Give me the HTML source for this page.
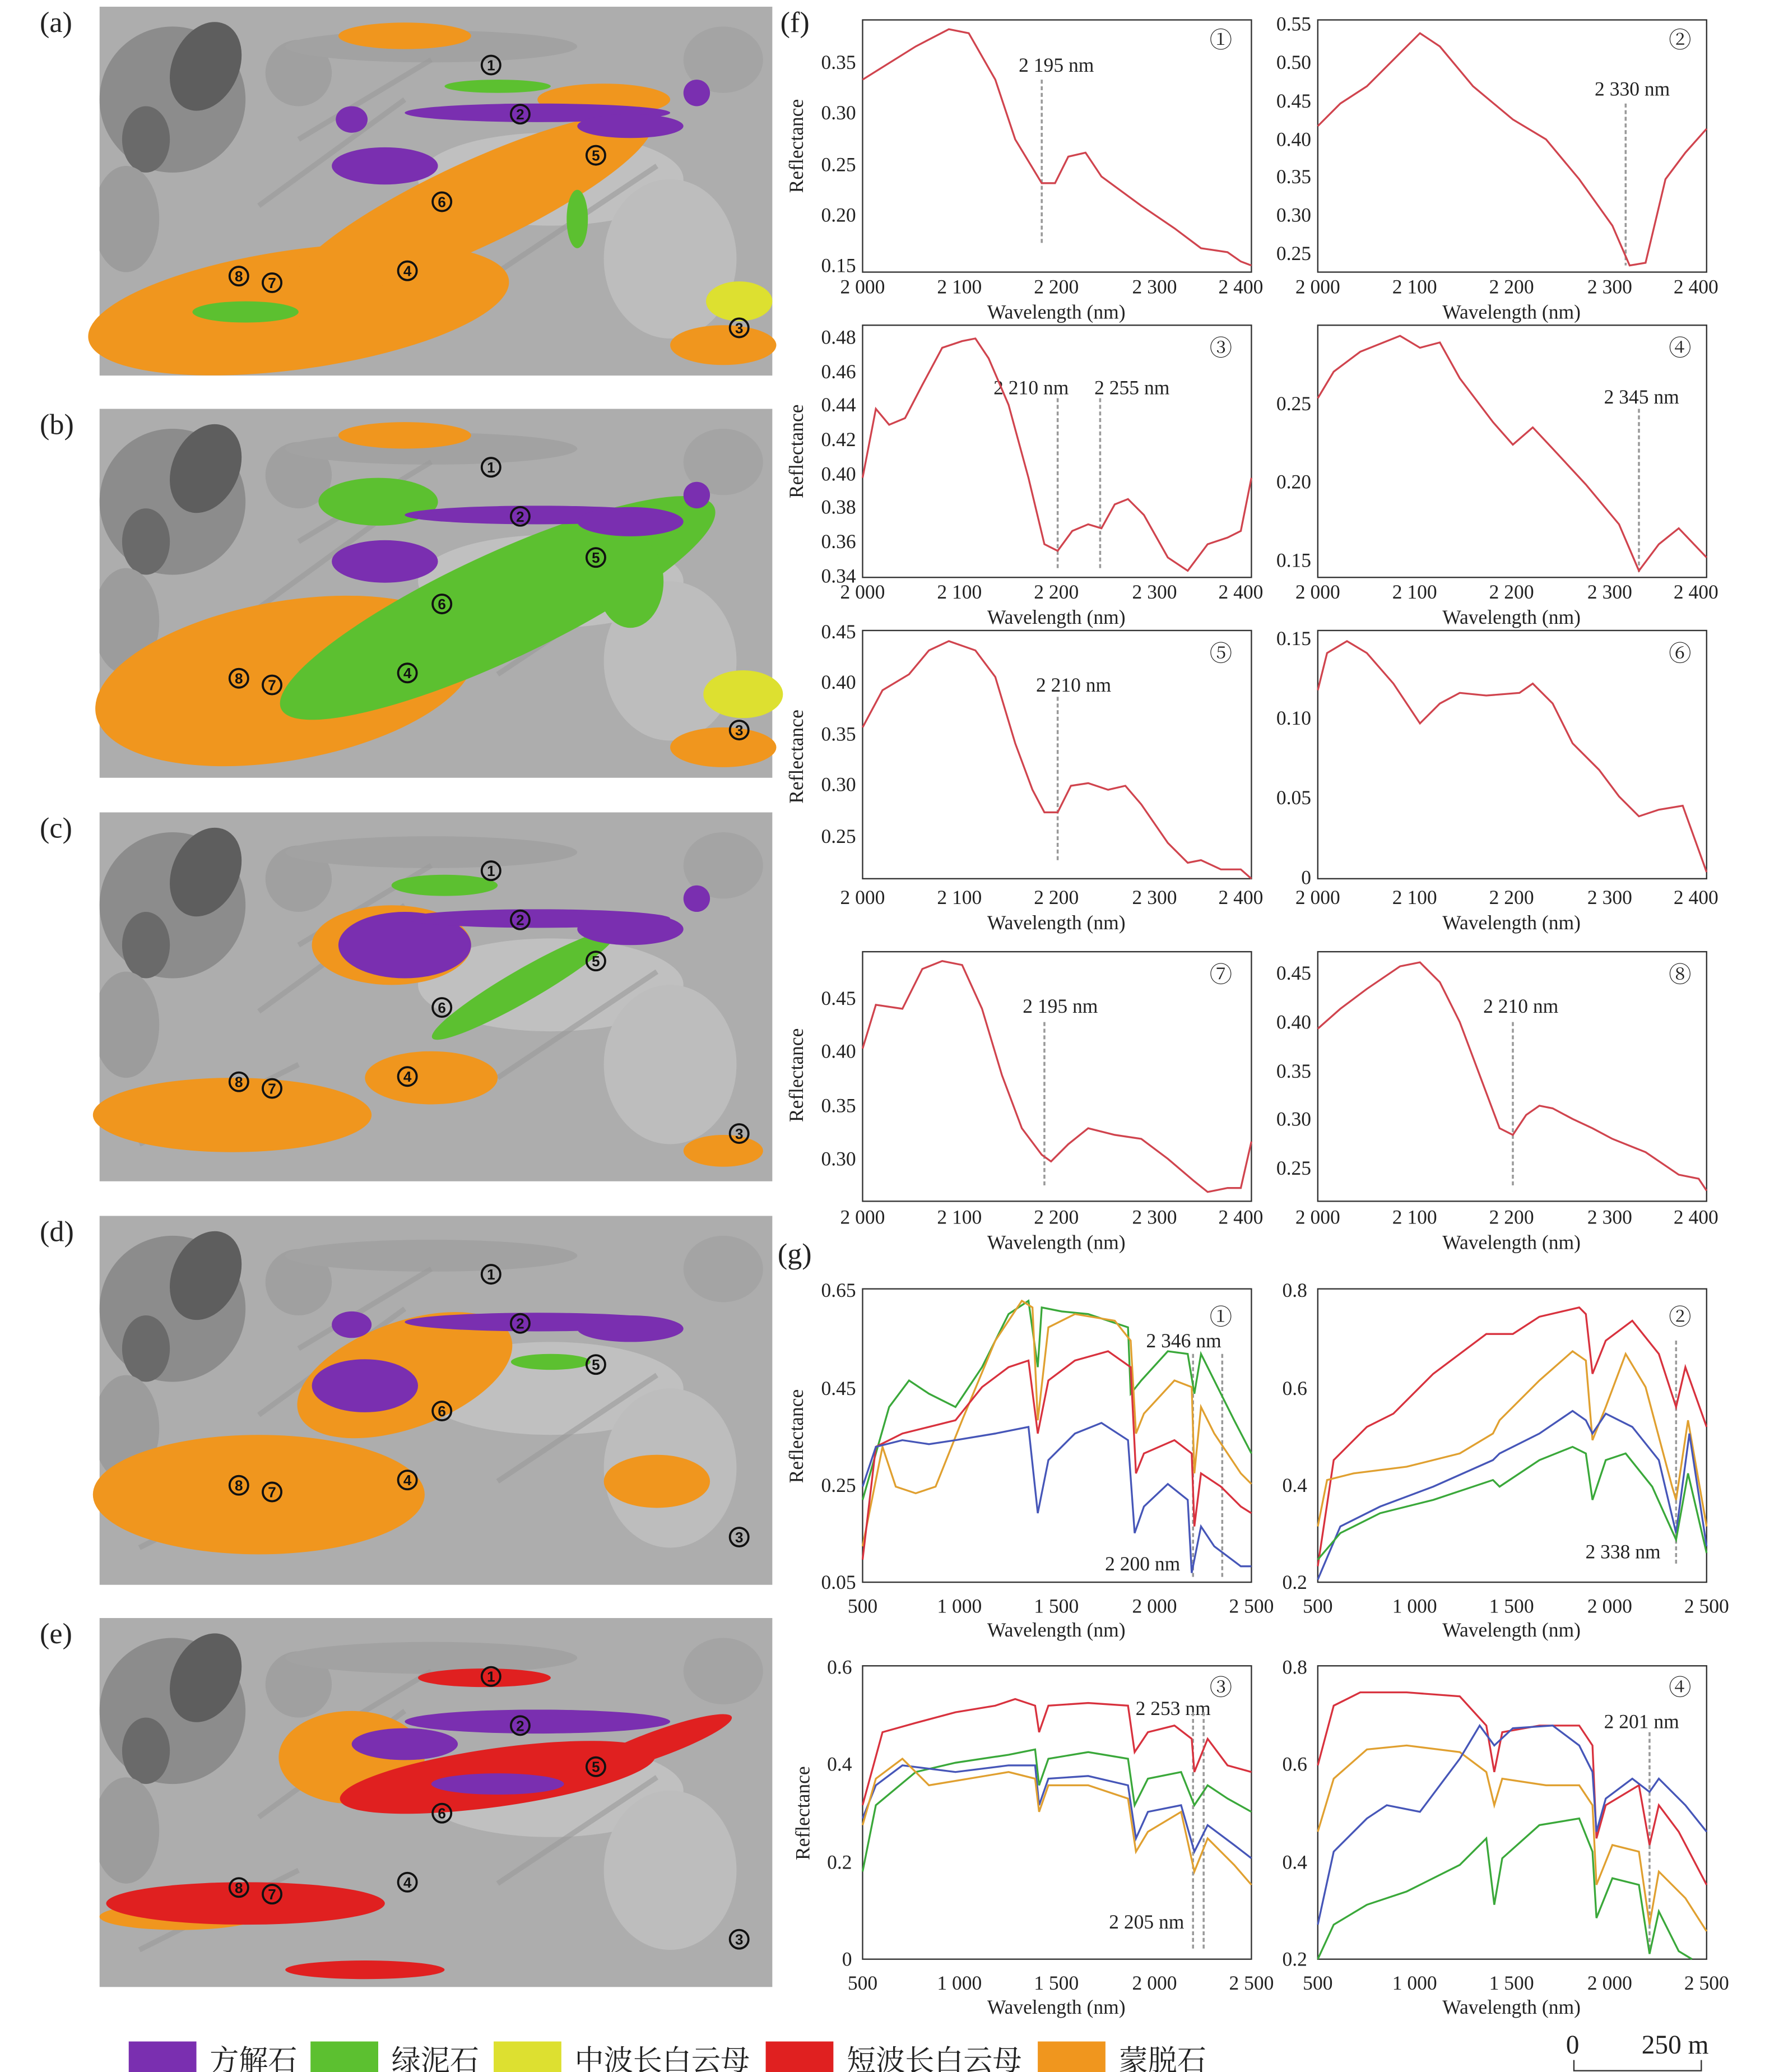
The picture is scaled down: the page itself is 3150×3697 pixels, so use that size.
<!DOCTYPE html>
<html><head><meta charset="utf-8"><style>
html,body{margin:0;padding:0;background:#fff}
svg{display:block}
text{font-family:"Liberation Serif","Noto Serif CJK SC",serif;fill:#222}
.t{font-size:15px}
.cn{font-family:"Liberation Serif","Noto Serif CJK SC",serif;font-size:22px}
.ax{fill:none;stroke:#333;stroke-width:1}
.c{fill:none;stroke:#d0444e;stroke-width:1.4}
.r{fill:none;stroke:#d8323e;stroke-width:1.4}
.g{fill:none;stroke:#3aa83a;stroke-width:1.4}
.y{fill:none;stroke:#e0a030;stroke-width:1.4}
.b{fill:none;stroke:#4656b8;stroke-width:1.4}
.v{stroke:#999;stroke-width:1.5;stroke-dasharray:3,2}
.mk circle{fill:none;stroke:#111;stroke-width:1.6}
.mk text{font-size:11px;font-weight:bold;text-anchor:middle;fill:#111;font-family:"Liberation Sans",sans-serif}
</style></head><body>
<svg width="3150" height="3697" viewBox="0 0 1330 1561" preserveAspectRatio="none" xmlns="http://www.w3.org/2000/svg">
<defs>
<symbol id="bg" viewBox="0 0 507 278" width="507" height="278">
<rect width="507" height="278" fill="#adadad"/>
<ellipse cx="55" cy="70" rx="55" ry="55" fill="#8c8c8c"/>
<ellipse cx="80" cy="45" rx="25" ry="35" fill="#5e5e5e" transform="rotate(25 80 45)"/>
<ellipse cx="35" cy="100" rx="18" ry="25" fill="#6a6a6a"/>
<ellipse cx="20" cy="160" rx="25" ry="40" fill="#9c9c9c"/>
<ellipse cx="150" cy="50" rx="25" ry="25" fill="#a0a0a0"/>
<ellipse cx="340" cy="130" rx="100" ry="35" fill="#c0c0c0"/>
<ellipse cx="430" cy="190" rx="50" ry="60" fill="#bdbdbd"/>
<ellipse cx="250" cy="30" rx="110" ry="12" fill="#a2a2a2"/>
<ellipse cx="470" cy="40" rx="30" ry="25" fill="#a4a4a4"/>
<g stroke="#9a9a9a" stroke-width="4" opacity="0.6">
<line x1="150" y1="100" x2="250" y2="40"/><line x1="120" y1="150" x2="230" y2="70"/><line x1="300" y1="200" x2="420" y2="120"/><line x1="30" y1="250" x2="150" y2="190"/>
</g>
</symbol>
<g id="mk" class="mk">
<circle cx="295" cy="44" r="7"/><text x="295" y="48">1</text>
<circle cx="317" cy="81" r="7"/><text x="317" y="85">2</text>
<circle cx="374" cy="112" r="7"/><text x="374" y="116">5</text>
<circle cx="258" cy="147" r="7"/><text x="258" y="151">6</text>
<circle cx="232" cy="199" r="7"/><text x="232" y="203">4</text>
<circle cx="105" cy="203" r="7"/><text x="105" y="207">8</text>
<circle cx="130" cy="208" r="7"/><text x="130" y="212">7</text>
<circle cx="482" cy="242" r="7"/><text x="482" y="246">3</text>
</g>
</defs>

<text x="30" y="24" font-size="22">(a)</text>
<text x="30" y="327" font-size="22">(b)</text>
<text x="30" y="631" font-size="22">(c)</text>
<text x="30" y="935" font-size="22">(d)</text>
<text x="30" y="1238" font-size="22">(e)</text>
<text x="588" y="24" font-size="22">(f)</text>
<text x="586" y="952" font-size="22">(g)</text>

<!-- (a) -->
<g transform="translate(75,5)">
<use href="#bg"/>
<g fill="#f0961e">
<ellipse cx="150" cy="228" rx="160" ry="45" transform="rotate(-8 150 228)"/>
<ellipse cx="280" cy="150" rx="150" ry="32" transform="rotate(-25 280 150)"/>
<ellipse cx="230" cy="22" rx="50" ry="10"/>
<ellipse cx="470" cy="255" rx="40" ry="15"/>
<ellipse cx="380" cy="70" rx="50" ry="12"/>
</g>
<g fill="#5cc030"><ellipse cx="110" cy="230" rx="40" ry="8"/><ellipse cx="300" cy="60" rx="40" ry="5"/><ellipse cx="360" cy="160" rx="8" ry="22"/></g>
<g fill="#dde030"><ellipse cx="482" cy="222" rx="25" ry="15"/></g>
<g fill="#7a2fb0"><ellipse cx="330" cy="80" rx="100" ry="7"/><ellipse cx="215" cy="120" rx="40" ry="14"/><ellipse cx="400" cy="90" rx="40" ry="9"/><ellipse cx="450" cy="65" rx="10" ry="10"/><ellipse cx="190" cy="85" rx="12" ry="10"/></g>
<use href="#mk"/>
</g>
<!-- (b) -->
<g transform="translate(75,308)">
<use href="#bg"/>
<g fill="#f0961e"><ellipse cx="140" cy="205" rx="145" ry="60" transform="rotate(-10 140 205)"/><ellipse cx="230" cy="20" rx="50" ry="10"/><ellipse cx="470" cy="255" rx="40" ry="15"/></g>
<g fill="#5cc030"><ellipse cx="300" cy="150" rx="180" ry="40" transform="rotate(-25 300 150)"/><ellipse cx="400" cy="130" rx="25" ry="35"/><ellipse cx="210" cy="70" rx="45" ry="18"/></g>
<g fill="#dde030"><ellipse cx="485" cy="215" rx="30" ry="18"/></g>
<g fill="#7a2fb0"><ellipse cx="330" cy="80" rx="100" ry="7"/><ellipse cx="215" cy="115" rx="40" ry="16"/><ellipse cx="400" cy="85" rx="40" ry="11"/><ellipse cx="450" cy="65" rx="10" ry="10"/></g>
<use href="#mk"/>
</g>
<!-- (c) -->
<g transform="translate(75,612)">
<use href="#bg"/>
<g fill="#f0961e"><ellipse cx="100" cy="228" rx="105" ry="28"/><ellipse cx="220" cy="100" rx="60" ry="30"/><ellipse cx="250" cy="200" rx="50" ry="20"/><ellipse cx="470" cy="255" rx="30" ry="12"/></g>
<g fill="#5cc030"><ellipse cx="320" cy="130" rx="80" ry="12" transform="rotate(-30 320 130)"/><ellipse cx="260" cy="55" rx="40" ry="8"/></g>
<g fill="#7a2fb0"><ellipse cx="230" cy="100" rx="50" ry="25"/><ellipse cx="330" cy="80" rx="100" ry="7"/><ellipse cx="400" cy="88" rx="40" ry="12"/><ellipse cx="450" cy="65" rx="10" ry="10"/></g>
<use href="#mk"/>
</g>
<!-- (d) -->
<g transform="translate(75,916)">
<use href="#bg"/>
<g fill="#f0961e"><ellipse cx="120" cy="210" rx="125" ry="45"/><ellipse cx="230" cy="120" rx="85" ry="40" transform="rotate(-20 230 120)"/><ellipse cx="420" cy="200" rx="40" ry="20"/></g>
<g fill="#7a2fb0"><ellipse cx="200" cy="128" rx="40" ry="20"/><ellipse cx="330" cy="80" rx="100" ry="7"/><ellipse cx="400" cy="85" rx="40" ry="10"/><ellipse cx="190" cy="82" rx="15" ry="10"/></g>
<g fill="#5cc030"><ellipse cx="340" cy="110" rx="30" ry="6"/></g>
<use href="#mk"/>
</g>
<!-- (e) -->
<g transform="translate(75,1219)">
<use href="#bg"/>
<g fill="#f0961e"><ellipse cx="190" cy="105" rx="55" ry="35"/><ellipse cx="60" cy="225" rx="60" ry="10"/></g>
<g fill="#e02020"><ellipse cx="300" cy="120" rx="120" ry="22" transform="rotate(-8 300 120)"/><ellipse cx="110" cy="215" rx="105" ry="16"/><ellipse cx="290" cy="45" rx="50" ry="7"/><ellipse cx="420" cy="95" rx="60" ry="10" transform="rotate(-20 420 95)"/><ellipse cx="200" cy="265" rx="60" ry="7"/></g>
<g fill="#7a2fb0"><ellipse cx="330" cy="78" rx="100" ry="9"/><ellipse cx="230" cy="95" rx="40" ry="12"/><ellipse cx="300" cy="125" rx="50" ry="8"/></g>
<use href="#mk"/>
</g>

<g class="t">
<rect class="ax" x="650" y="15" width="293" height="190"/>
<rect class="ax" x="993" y="15" width="293" height="190"/>
<rect class="ax" x="650" y="245" width="293" height="190"/>
<rect class="ax" x="993" y="245" width="293" height="190"/>
<rect class="ax" x="650" y="475" width="293" height="187"/>
<rect class="ax" x="993" y="475" width="293" height="187"/>
<rect class="ax" x="650" y="717" width="293" height="188"/>
<rect class="ax" x="993" y="717" width="293" height="188"/>
<rect class="ax" x="650" y="971" width="293" height="221"/>
<rect class="ax" x="993" y="971" width="293" height="221"/>
<rect class="ax" x="650" y="1255" width="293" height="221"/>
<rect class="ax" x="993" y="1255" width="293" height="221"/>

<g text-anchor="middle">
<g id="xf"><text x="650" y="221">2 000</text><text x="723" y="221">2 100</text><text x="796" y="221">2 200</text><text x="870" y="221">2 300</text><text x="935" y="221">2 400</text><text x="796" y="240">Wavelength (nm)</text></g>
<use href="#xf" x="343"/>
<use href="#xf" y="230"/><use href="#xf" x="343" y="230"/>
<use href="#xf" y="460"/><use href="#xf" x="343" y="460"/>
<use href="#xf" y="701"/><use href="#xf" x="343" y="701"/>
<g id="xg"><text x="650" y="1215">500</text><text x="723" y="1215">1 000</text><text x="796" y="1215">1 500</text><text x="870" y="1215">2 000</text><text x="943" y="1215">2 500</text><text x="796" y="1233">Wavelength (nm)</text></g>
<use href="#xg" x="343"/>
<use href="#xg" y="284"/><use href="#xg" x="343" y="284"/>
</g>
<g font-size="15">
<text transform="translate(605,110) rotate(-90)" text-anchor="middle">Reflectance</text>
<text transform="translate(605,340) rotate(-90)" text-anchor="middle">Reflectance</text>
<text transform="translate(605,570) rotate(-90)" text-anchor="middle">Reflectance</text>
<text transform="translate(605,810) rotate(-90)" text-anchor="middle">Reflectance</text>
<text transform="translate(605,1082) rotate(-90)" text-anchor="middle">Reflectance</text>
<text transform="translate(610,1366) rotate(-90)" text-anchor="middle">Reflectance</text>
</g>
<g text-anchor="end">
<text x="645" y="52">0.35</text><text x="645" y="90">0.30</text><text x="645" y="129">0.25</text><text x="645" y="167">0.20</text><text x="645" y="205">0.15</text>
<text x="988" y="23">0.55</text><text x="988" y="52">0.50</text><text x="988" y="81">0.45</text><text x="988" y="110">0.40</text><text x="988" y="138">0.35</text><text x="988" y="167">0.30</text><text x="988" y="196">0.25</text>
<text x="645" y="259">0.48</text><text x="645" y="285">0.46</text><text x="645" y="310">0.44</text><text x="645" y="336">0.42</text><text x="645" y="362">0.40</text><text x="645" y="387">0.38</text><text x="645" y="413">0.36</text><text x="645" y="439">0.34</text>
<text x="988" y="309">0.25</text><text x="988" y="368">0.20</text><text x="988" y="427">0.15</text>
<text x="645" y="481">0.45</text><text x="645" y="519">0.40</text><text x="645" y="558">0.35</text><text x="645" y="596">0.30</text><text x="645" y="635">0.25</text>
<text x="988" y="486">0.15</text><text x="988" y="546">0.10</text><text x="988" y="606">0.05</text><text x="988" y="666">0</text>
<text x="645" y="757">0.45</text><text x="645" y="797">0.40</text><text x="645" y="838">0.35</text><text x="645" y="878">0.30</text>
<text x="988" y="738">0.45</text><text x="988" y="775">0.40</text><text x="988" y="812">0.35</text><text x="988" y="848">0.30</text><text x="988" y="885">0.25</text>
<text x="645" y="977">0.65</text><text x="645" y="1051">0.45</text><text x="645" y="1124">0.25</text><text x="645" y="1197">0.05</text>
<text x="985" y="977">0.8</text><text x="985" y="1051">0.6</text><text x="985" y="1124">0.4</text><text x="985" y="1197">0.2</text>
<text x="642" y="1261">0.6</text><text x="642" y="1334">0.4</text><text x="642" y="1408">0.2</text><text x="642" y="1481">0</text>
<text x="985" y="1261">0.8</text><text x="985" y="1334">0.6</text><text x="985" y="1408">0.4</text><text x="985" y="1481">0.2</text>
</g>
<g font-size="17" text-anchor="middle" font-family="Liberation Sans, DejaVu Sans, sans-serif">
<text x="920" y="36">①</text><text x="1266" y="36">②</text><text x="920" y="268">③</text><text x="1266" y="268">④</text>
<text x="920" y="498">⑤</text><text x="1266" y="498">⑥</text><text x="920" y="740">⑦</text><text x="1266" y="740">⑧</text>
<text x="920" y="998">①</text><text x="1266" y="998">②</text><text x="920" y="1277">③</text><text x="1266" y="1277">④</text>
</g>
<g text-anchor="middle">
<text x="796" y="54">2 195 nm</text><text x="1230" y="72">2 330 nm</text>
<text x="777" y="297">2 210 nm</text><text x="853" y="297">2 255 nm</text><text x="1237" y="304">2 345 nm</text>
<text x="809" y="521">2 210 nm</text><text x="799" y="763">2 195 nm</text><text x="1146" y="763">2 210 nm</text>
<text x="892" y="1015">2 346 nm</text><text x="861" y="1183">2 200 nm</text><text x="1223" y="1174">2 338 nm</text>
<text x="884" y="1292">2 253 nm</text><text x="864" y="1453">2 205 nm</text><text x="1237" y="1302">2 201 nm</text>
</g>
</g>

<g class="v">
<line x1="785" y1="60" x2="785" y2="185"/><line x1="1225" y1="78" x2="1225" y2="200"/>
<line x1="797" y1="300" x2="797" y2="430"/><line x1="829" y1="300" x2="829" y2="430"/>
<line x1="1235" y1="308" x2="1235" y2="432"/><line x1="797" y1="525" x2="797" y2="650"/>
<line x1="787" y1="770" x2="787" y2="895"/><line x1="1140" y1="770" x2="1140" y2="893"/>
<line x1="899" y1="1020" x2="899" y2="1190"/><line x1="921" y1="1020" x2="921" y2="1190"/>
<line x1="1263" y1="1010" x2="1263" y2="1180"/>
<line x1="899" y1="1290" x2="899" y2="1470"/><line x1="907" y1="1290" x2="907" y2="1470"/>
<line x1="1243" y1="1305" x2="1243" y2="1470"/>
</g>

<polyline class="c" points="650,60 690,35 715,22 730,25 750,60 765,105 785,138 795,138 805,118 818,115 830,133 860,155 885,172 905,187 925,190 935,197 943,200"/>
<polyline class="c" points="993,95 1010,78 1030,65 1055,40 1070,25 1085,35 1110,65 1140,90 1165,105 1190,135 1215,170 1228,200 1240,198 1255,135 1270,115 1286,97"/>
<polyline class="c" points="650,360 660,308 670,320 682,315 695,290 710,262 725,257 735,255 745,270 760,305 775,360 787,410 797,415 808,400 820,395 830,398 840,380 850,376 862,388 880,420 895,430 910,410 925,405 935,400 943,360"/>
<polyline class="c" points="993,300 1005,280 1025,265 1055,253 1070,262 1085,258 1100,285 1125,318 1140,335 1155,322 1170,338 1195,365 1220,395 1235,430 1250,410 1265,398 1286,420"/>
<polyline class="c" points="650,548 665,520 685,508 700,490 715,483 735,490 750,510 765,560 778,595 787,612 797,612 807,592 820,590 835,595 848,592 860,606 880,635 895,650 905,648 920,655 935,655 943,662"/>
<polyline class="c" points="993,520 1000,492 1015,483 1030,492 1050,515 1070,545 1085,530 1100,522 1120,524 1145,522 1155,515 1170,530 1185,560 1205,580 1220,600 1235,615 1250,610 1268,607 1286,657"/>
<polyline class="c" points="650,790 660,757 680,760 695,730 710,724 725,727 740,760 755,810 770,850 785,870 792,875 805,862 820,850 840,855 860,858 880,873 900,890 910,898 925,895 935,895 943,860"/>
<polyline class="c" points="993,775 1010,760 1030,745 1055,728 1070,725 1085,740 1100,770 1115,810 1130,850 1140,855 1150,840 1160,833 1170,835 1185,843 1200,850 1215,858 1240,868 1265,885 1280,888 1286,897"/>

<polyline class="g" points="650,1130 670,1060 685,1040 700,1050 720,1060 740,1030 760,990 775,980 782,1030 785,985 800,988 820,990 850,1000 852,1050 860,1040 880,1018 895,1020 900,1050 905,1020 915,1040 930,1070 943,1095"/>
<polyline class="y" points="650,1165 665,1090 675,1120 690,1125 705,1120 725,1070 750,1010 770,980 778,985 782,1070 790,1000 810,990 840,995 852,1010 856,1080 862,1065 885,1040 898,1045 900,1110 905,1060 915,1080 935,1110 943,1118"/>
<polyline class="r" points="650,1175 660,1090 680,1080 700,1075 720,1070 740,1045 760,1030 775,1025 782,1080 790,1040 810,1025 835,1018 852,1030 856,1110 862,1095 885,1085 898,1095 900,1150 905,1110 920,1120 935,1135 943,1140"/>
<polyline class="b" points="650,1120 660,1090 680,1085 700,1088 720,1085 750,1080 775,1075 782,1140 790,1100 810,1080 830,1072 850,1085 855,1155 862,1135 880,1118 895,1130 898,1185 905,1150 915,1165 935,1180 943,1180"/>
<polyline class="r" points="993,1180 1005,1100 1030,1075 1050,1065 1080,1035 1120,1005 1140,1005 1160,992 1190,985 1195,990 1200,1035 1210,1010 1230,995 1250,1020 1263,1060 1270,1030 1286,1075"/>
<polyline class="y" points="993,1150 1000,1115 1020,1110 1060,1105 1100,1095 1125,1080 1130,1070 1160,1040 1185,1018 1195,1025 1200,1085 1210,1060 1225,1020 1240,1045 1260,1120 1263,1130 1272,1070 1286,1150"/>
<polyline class="b" points="993,1190 1010,1150 1040,1135 1080,1120 1125,1100 1130,1095 1160,1080 1185,1063 1195,1070 1200,1080 1210,1065 1230,1075 1250,1100 1263,1155 1273,1080 1286,1165"/>
<polyline class="g" points="993,1175 1010,1155 1040,1140 1080,1130 1125,1115 1130,1120 1160,1100 1185,1090 1195,1095 1200,1130 1210,1100 1225,1095 1245,1120 1263,1160 1272,1110 1286,1170"/>
<polyline class="r" points="650,1360 665,1305 690,1298 720,1290 750,1285 765,1280 780,1285 783,1305 790,1285 820,1283 850,1285 855,1320 865,1305 885,1300 898,1310 900,1335 910,1310 925,1330 943,1335"/>
<polyline class="g" points="650,1410 660,1360 690,1335 720,1328 760,1322 780,1318 783,1345 790,1325 820,1320 850,1325 855,1360 865,1340 890,1335 900,1360 910,1345 925,1355 943,1365"/>
<polyline class="b" points="650,1370 660,1345 680,1330 720,1335 760,1330 780,1330 783,1360 790,1340 820,1338 850,1345 856,1385 865,1365 890,1360 900,1395 910,1375 930,1390 943,1400"/>
<polyline class="y" points="650,1375 660,1340 680,1325 700,1345 730,1340 760,1335 780,1340 783,1365 790,1345 820,1345 850,1355 856,1395 865,1380 890,1365 900,1410 910,1385 930,1405 943,1420"/>
<polyline class="r" points="993,1330 1005,1285 1025,1275 1060,1275 1100,1278 1120,1300 1126,1335 1132,1305 1160,1300 1190,1300 1200,1315 1203,1385 1210,1360 1235,1345 1243,1390 1250,1360 1265,1380 1286,1420"/>
<polyline class="y" points="993,1380 1005,1340 1030,1318 1060,1315 1100,1320 1120,1335 1126,1360 1132,1340 1165,1345 1190,1345 1200,1360 1203,1420 1215,1390 1235,1395 1243,1450 1250,1410 1270,1430 1286,1455"/>
<polyline class="b" points="993,1450 1005,1395 1030,1370 1045,1360 1070,1365 1100,1325 1115,1300 1126,1315 1140,1302 1170,1300 1190,1315 1200,1335 1203,1380 1210,1355 1230,1340 1243,1350 1250,1340 1270,1360 1286,1380"/>
<polyline class="g" points="993,1476 1005,1450 1030,1435 1060,1425 1100,1405 1120,1385 1126,1435 1132,1400 1160,1375 1190,1370 1200,1395 1203,1445 1215,1415 1235,1420 1243,1472 1250,1440 1265,1470 1275,1476"/>

<rect x="97" y="1538" width="51" height="28" fill="#7a2fb0"/><text class="cn" x="158" y="1560">方解石</text>
<rect x="234" y="1538" width="51" height="28" fill="#5cc030"/><text class="cn" x="295" y="1560">绿泥石</text>
<rect x="372" y="1538" width="51" height="28" fill="#dde030"/><text class="cn" x="433" y="1560">中波长白云母</text>
<rect x="577" y="1538" width="51" height="28" fill="#e02020"/><text class="cn" x="638" y="1560">短波长白云母</text>
<rect x="782" y="1538" width="51" height="28" fill="#f0961e"/><text class="cn" x="843" y="1560">蒙脱石</text>
<text x="1180" y="1547" font-size="20">0</text><text x="1237" y="1547" font-size="20">250 m</text>
<polyline class="ax" points="1186,1552 1186,1560 1282,1560 1282,1552"/>
</svg>
</body></html>
